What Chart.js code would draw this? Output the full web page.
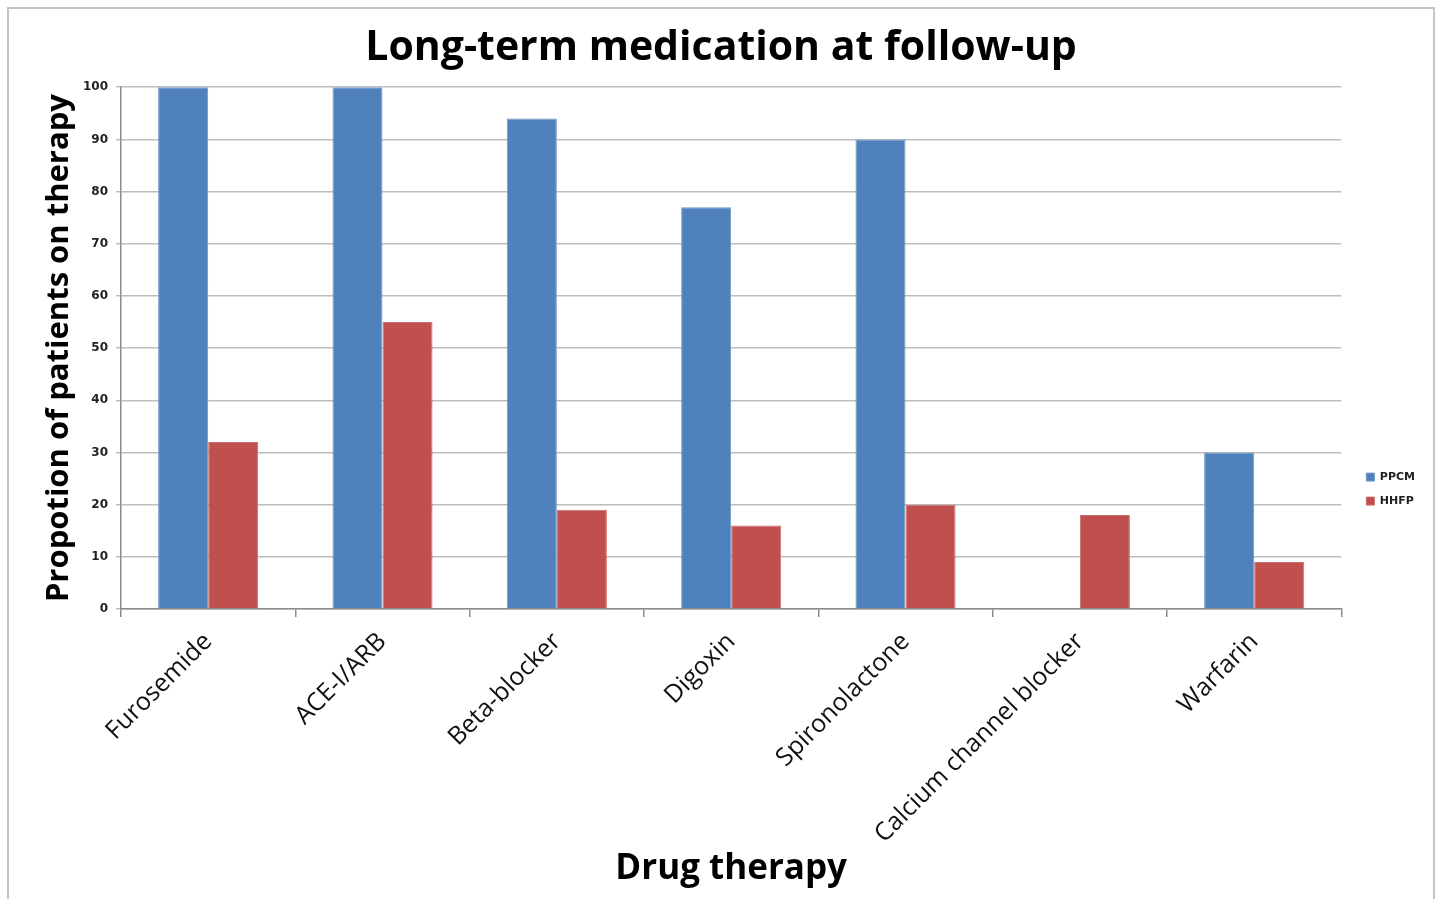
<!DOCTYPE html>
<html>
<head>
<meta charset="utf-8">
<script src="https://cdn.jsdelivr.net/npm/chart.js@4.4.1/dist/chart.umd.min.js"></script>
<style>
body { margin: 0; background: #fff; }
#frame { position: absolute; left: 7px; top: 7px; width: 1424px; height: 900px; border: 2px solid #c4c4c4; border-bottom: none; }
canvas { display: block; }
</style>
</head>
<body>
<div id="frame"><canvas id="chart" width="1424" height="890"></canvas></div>
<script>
"use strict"

var drugs = ["Furosemide", "ACE-I/ARB", "Beta-blocker", "Digoxin", "Spironolactone", "Calcium channel blocker", "Warfarin"];
var ppcm = [100, 100, 94, 77, 90, 0, 30];
var hhfp = [32, 55, 19, 16, 20, 18, 9];

var font = "'Open Sans', 'Liberation Sans', sans-serif";
var smallFont = "'DejaVu Sans', Verdana, sans-serif";

//push the legend a bit away from the plot, like the original
var legendShift = {
    id: 'legendShift',
    afterLayout: function(chart){
        if(chart.legend){
            chart.legend.left += 12;
            chart.legend.right += 12;
        }
    }
};

var chart = new Chart(document.getElementById("chart"), {
    type: 'bar',
    data: {
        labels: drugs,
        datasets: [{
            label: "PPCM",
            data: ppcm,
            backgroundColor: "#4f81bd",
            borderColor: "#6f97c9",
            borderWidth: 1,
            categoryPercentage: 0.574,
            barPercentage: 1
        }, {
            label: "HHFP",
            data: hhfp,
            backgroundColor: "#c0504d",
            borderColor: "#cc6e6b",
            borderWidth: 1,
            categoryPercentage: 0.574,
            barPercentage: 1
        }]
    },
    plugins: [legendShift],
    options: {
        responsive: false,
        animation: false,
        layout: { padding: { left: 20, right: 20, top: 0, bottom: 0 } },
        plugins: {
            title: {
                display: true,
                text: "Long-term medication at follow-up",
                color: "#000",
                font: { family: font, size: 41, weight: 'bold' },
                padding: { top: 15, bottom: 14 }
            },
            legend: {
                position: 'right',
                title: {
                    display: true,
                    text: " ",
                    font: { size: 1 },
                    padding: { top: 0, bottom: 69 }
                },
                labels: {
                    boxWidth: 8,
                    boxHeight: 8,
                    padding: 13,
                    color: "#222",
                    font: { family: smallFont, size: 11, weight: 'bold' }
                }
            },
            tooltip: { enabled: false }
        },
        scales: {
            x: {
                grid: {
                    display: true,
                    drawOnChartArea: false,
                    tickLength: 8,
                    color: "#8c8c8c",
                    lineWidth: 1.5
                },
                border: { color: "#8c8c8c", width: 1.5 },
                ticks: {
                    minRotation: 45,
                    maxRotation: 45,
                    padding: 10,
                    color: "#111",
                    font: { family: font, size: 25 }
                },
                title: {
                    display: true,
                    text: "Drug therapy",
                    color: "#000",
                    font: { family: font, size: 35, weight: 'bold' },
                    padding: { top: 0, bottom: 9 }
                },
                afterFit: function(scale){ scale.height = 290; }
            },
            y: {
                min: 0,
                max: 100,
                ticks: {
                    stepSize: 10,
                    padding: 8,
                    color: "#222",
                    font: { family: smallFont, size: 12, weight: 'bold' }
                },
                grid: {
                    color: "#bdbdbd",
                    lineWidth: 1.5,
                    tickLength: 5
                },
                border: { color: "#8c8c8c", width: 1.5 },
                title: {
                    display: true,
                    text: "Propotion of patients on therapy",
                    color: "#000",
                    font: { family: font, size: 31, weight: 'bold' },
                    padding: { top: 12, bottom: 0 }
                },
                afterFit: function(scale){ scale.width = 92; }
            }
        }
    }
});
</script>
</body>
</html>
